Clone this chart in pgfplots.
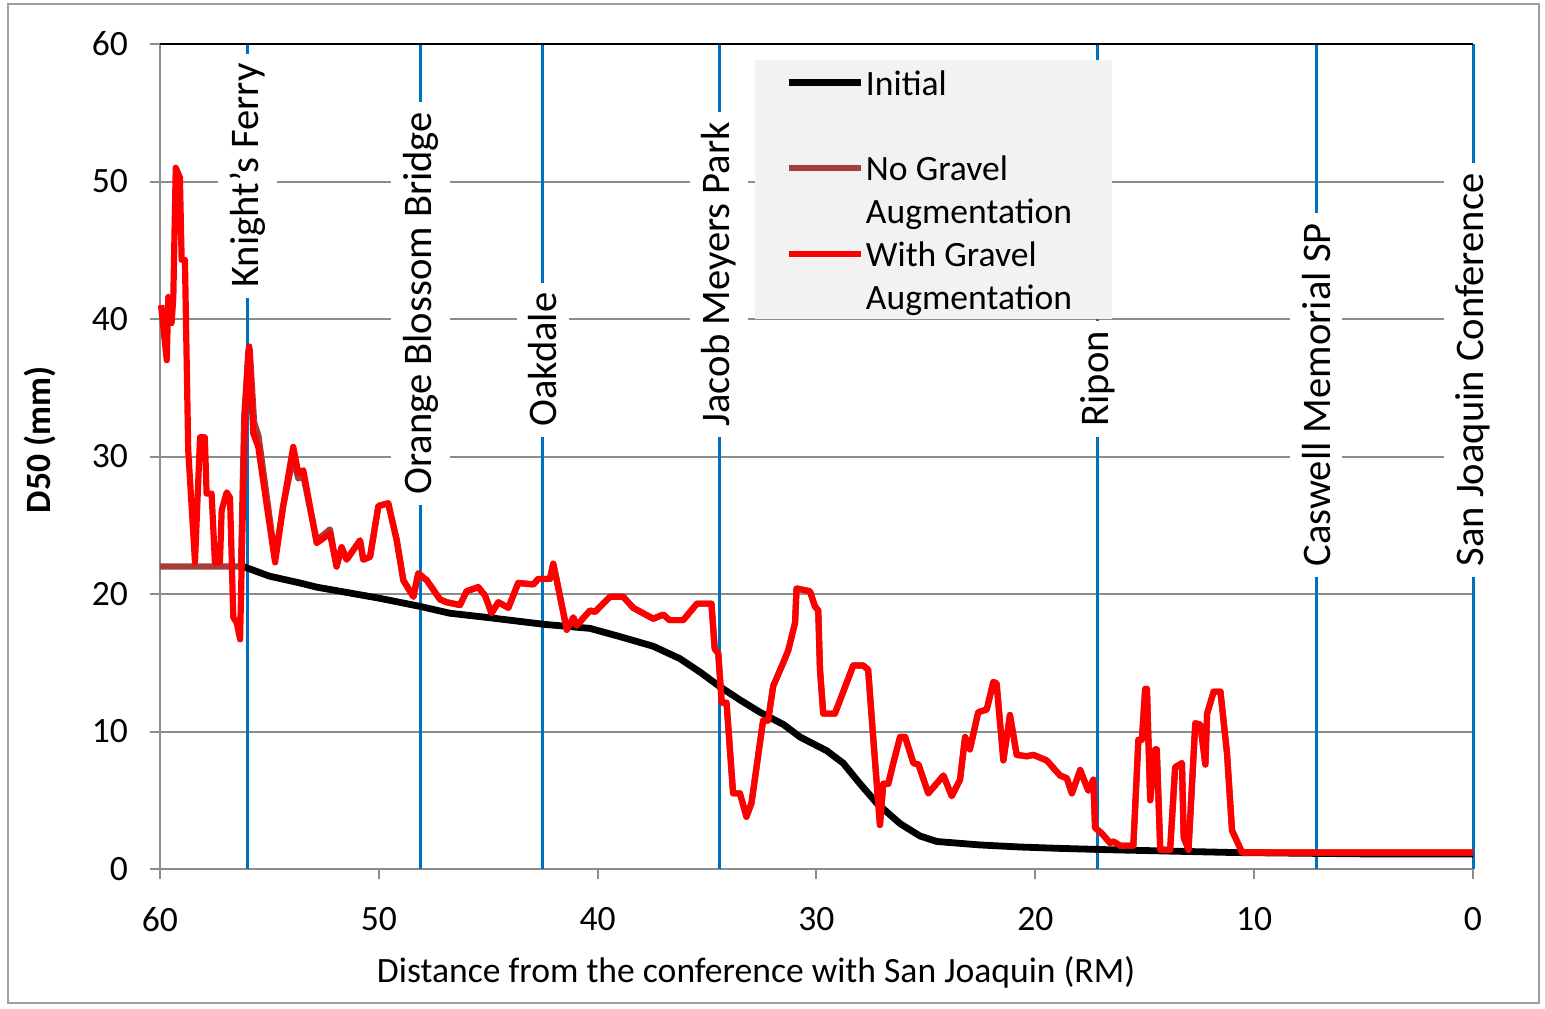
\documentclass[border=0pt]{standalone}
\usepackage{fontspec}
\setmainfont{Carlito}
\usepackage{pgfplots}
\pgfplotsset{compat=1.18}
\definecolor{redline}{RGB}{255,0,0}
\definecolor{brownline}{RGB}{165,62,58}
\definecolor{blueline}{RGB}{0,112,192}
\definecolor{gridgray}{RGB}{140,140,140}
\definecolor{legfill}{RGB}{242,242,242}
\newcommand{\f}{\fontsize{17.8}{21.4}\selectfont}
\newcommand{\fl}{\fontsize{20.3}{24}\selectfont}
\tikzset{lab/.style={rotate=90, fill=white, inner xsep=5pt, inner ysep=6pt, font=\fl, anchor=west}}
\begin{document}
\begin{tikzpicture}
\useasboundingbox (-80pt,-69.5pt) rectangle (692.5pt,434.5pt);
\begin{axis}[
 at={(0,0)}, anchor=south west, scale only axis, width=656.5pt, height=412.5pt,
 x dir=reverse, xmin=0, xmax=60, ymin=0, ymax=60,
 xtick={0,10,...,60}, ytick={0,10,...,60},
 axis x line*=bottom, axis y line*=left,
 axis line style={-, gridgray, line width=1pt},
 tick align=outside, major tick length=5pt, tick style={gridgray, line width=1pt},
 ymajorgrids, grid style={gridgray, line width=1pt},
 tick label style={font=\f}, /pgf/number format/assume math mode=true,
 yticklabel style={xshift=-7.5pt}, xticklabel style={yshift=-10.5pt},
 xlabel={Distance from the conference with San Joaquin (RM)},
 ylabel={\textbf{D50 (mm)}},
 xlabel style={font=\f, at={(axis description cs:0.454,-0.1248)}, anchor=center},
 ylabel style={font=\f, at={(axis description cs:-0.0914,0.52)}, anchor=center},
 clip=false,
 legend cell align=left,
 legend style={at={(axis description cs:0.453,0.981)}, anchor=north west,
   fill=legfill, draw=none, inner xsep=15pt, inner ysep=0.5pt, font=\f,
   /tikz/row sep=0pt, /tikz/column sep=0pt,
   nodes={inner xsep=1pt, inner ysep=0pt, text height=17pt, text depth=4.4pt}},
 legend image code/.code={\draw[#1] (0pt,0pt) -- (36pt,0pt);},
]
% station lines
\addplot[blueline, line width=1.5pt, forget plot] coordinates {(56,0) (56,60)};
\addplot[blueline, line width=1.5pt, forget plot] coordinates {(48.1,0) (48.1,60)};
\addplot[blueline, line width=1.5pt, forget plot] coordinates {(42.5,0) (42.5,60)};
\addplot[blueline, line width=1.5pt, forget plot] coordinates {(34.45,0) (34.45,60)};
\addplot[blueline, line width=1.5pt, forget plot] coordinates {(17.15,0) (17.15,60)};
\addplot[blueline, line width=1.5pt, forget plot] coordinates {(7.17,0) (7.17,60)};
\addplot[blueline, line width=1.5pt, forget plot] coordinates {(0,0) (0,60)};
\draw[black, line width=1.25pt] (axis cs:60,60) -- (axis cs:0,60);
\node[lab] at (axis cs:56,41.53) {Knight's Ferry};
\node[lab] at (axis cs:48.1,26.47) {Orange Blossom Bridge};
\node[lab] at (axis cs:42.5,31.42) {Oakdale};
\node[lab] at (axis cs:34.45,31.42) {Jacob Meyers Park};
\node[lab] at (axis cs:17.15,31.42) {Ripon};
\node[lab] at (axis cs:7.17,21.24) {Caswell Memorial SP};
\node[lab] at (axis cs:0,21.24) {San Joaquin Conference};
% Initial
\addplot[black, line width=3.4pt, line join=round] coordinates {
(56.2,22.0)(55,21.3)(53.6,20.8)(52.84,20.5)(50,19.7)(48.12,19.1)(46.75,18.6)(45.07,18.3)
(42.48,17.8)(40.35,17.5)(38.98,16.9)(37.46,16.2)(36.24,15.3)(35.3,14.3)(34.45,13.3)
(33.5,12.3)(32.58,11.4)(31.5,10.5)(30.75,9.6)(29.53,8.6)(28.78,7.7)(28.01,6.2)(27.25,4.8)
(26.18,3.3)(25.27,2.4)(24.5,2.0)(22.53,1.75)(20.7,1.6)(18.87,1.5)(16.59,1.4)(10.97,1.2)(5,1.1)(0,1.1)};
\addlegendentry{Initial}
\addlegendimage{empty legend}\addlegendentry{\mbox{}}
% No gravel augmentation
\addplot[brownline, line width=3.1pt, line join=round] coordinates {
(60,22)(56.3,22)(56.15,33)(55.96,37.5)(55.9,37.8)(55.7,32.5)(55.5,31.5)(54.74,22.6)
(54.37,26.4)(53.91,30.0)(53.68,28.4)(53.45,28.6)(52.84,23.9)(52.23,24.7)(51.93,22.0)
(51.70,23.4)(51.47,22.5)(50.86,23.9)(50.71,22.5)(50.40,22.7)(50.02,26.4)(49.57,26.6)
(49.18,23.9)(48.88,21.0)(48.42,19.8)(48.20,21.5)(47.81,21.0)(47.20,19.6)(46.90,19.4)
(46.29,19.2)(45.99,20.2)(45.46,20.5)(45.15,19.9)(44.85,18.6)(44.54,19.4)(44.08,19.0)
(43.63,20.8)(42.94,20.7)(42.71,21.1)(42.18,21.1)(42.03,22.2)(41.87,21.0)(41.41,17.4)
(41.11,18.3)(40.96,17.7)(40.35,18.8)(40.12,18.7)(39.44,19.8)(38.83,19.8)(38.38,19.0)
(37.46,18.2)(37.01,18.5)(36.71,18.1)(36.09,18.1)(35.46,19.3)(34.80,19.3)(34.65,16.0)
(34.49,15.7)(34.33,12.1)(34.11,12.1)(33.81,5.5)(33.50,5.5)(33.20,3.8)(32.97,4.8)
(32.44,10.8)(32.21,10.8)(31.98,13.3)(31.52,15.0)(31.29,15.9)(30.98,17.9)(30.91,20.4)
(30.30,20.2)(30.07,19.1)(29.92,18.8)(29.84,14.5)(29.69,11.3)(29.16,11.3)(28.32,14.8)
(27.87,14.8)(27.64,14.5)(27.41,9.6)(27.10,3.2)(26.95,6.2)(26.72,6.2)(26.49,7.7)(26.18,9.6)
(25.95,9.6)(25.57,7.7)(25.34,7.6)(24.89,5.5)(24.20,6.8)(23.82,5.3)(23.44,6.5)(23.21,9.6)
(22.99,8.7)(22.61,11.4)(22.22,11.6)(21.92,13.6)(21.77,13.5)(21.46,7.9)(21.16,11.2)
(20.85,8.3)(20.39,8.2)(20.09,8.3)(19.48,7.9)(18.87,6.8)(18.56,6.6)(18.33,5.5)(17.95,7.2)
(17.58,5.7)(17.35,6.5)(17.27,3.0)(16.97,2.6)(16.59,1.9)(16.43,2.0)(16.13,1.7)(15.52,1.7)
(15.29,9.4)(15.13,9.4)(14.98,13.1)(14.90,13.1)(14.75,5.0)(14.52,8.7)(14.45,8.7)(14.29,1.4)
(13.84,1.4)(13.61,7.4)(13.30,7.7)(13.22,2.3)(13.00,1.4)(12.69,10.6)(12.46,10.5)(12.23,7.6)
(12.15,11.3)(11.85,12.9)(11.54,12.9)(11.24,8.4)(11.01,2.8)(10.55,1.2)(0,1.2)};
\addlegendentry{No Gravel}
\addlegendimage{empty legend}\addlegendentry{Augmentation\hspace*{4pt}}
% With gravel augmentation
\addplot[redline, line width=3.1pt, line join=round] coordinates {
(59.95,41.0)(59.69,37.0)(59.62,41.6)(59.47,39.7)(59.39,41.6)(59.28,51.0)(59.09,50.3)
(59.01,44.3)(58.86,44.3)(58.71,30.5)(58.40,22.3)(58.17,31.4)(57.95,31.4)(57.87,27.3)
(57.64,27.3)(57.49,22.3)(57.26,22.3)(57.18,26.1)(56.95,27.4)(56.80,27.0)(56.65,18.3)
(56.49,17.9)(56.34,16.7)(56.12,32.9)(55.96,37.7)(55.92,38.0)(55.74,31.7)(55.51,30.7)
(54.74,22.3)(54.37,26.4)(53.91,30.7)(53.68,28.8)(53.45,29.0)(52.84,23.7)(52.23,24.4)
(51.93,22.0)(51.70,23.4)(51.47,22.5)(50.86,23.9)(50.71,22.5)(50.40,22.7)(50.02,26.4)
(49.57,26.6)(49.18,23.9)(48.88,21.0)(48.42,19.8)(48.20,21.5)(47.81,21.0)(47.20,19.6)
(46.90,19.4)(46.29,19.2)(45.99,20.2)(45.46,20.5)(45.15,19.9)(44.85,18.6)(44.54,19.4)
(44.08,19.0)(43.63,20.8)(42.94,20.7)(42.71,21.1)(42.18,21.1)(42.03,22.2)(41.87,21.0)
(41.41,17.4)(41.11,18.3)(40.96,17.7)(40.35,18.8)(40.12,18.7)(39.44,19.8)(38.83,19.8)
(38.38,19.0)(37.46,18.2)(37.01,18.5)(36.71,18.1)(36.09,18.1)(35.46,19.3)(34.80,19.3)
(34.65,16.0)(34.49,15.7)(34.33,12.1)(34.11,12.1)(33.81,5.5)(33.50,5.5)(33.20,3.8)
(32.97,4.8)(32.44,10.8)(32.21,10.8)(31.98,13.3)(31.52,15.0)(31.29,15.9)(30.98,17.9)
(30.91,20.4)(30.30,20.2)(30.07,19.1)(29.92,18.8)(29.84,14.5)(29.69,11.3)(29.16,11.3)
(28.32,14.8)(27.87,14.8)(27.64,14.5)(27.41,9.6)(27.10,3.2)(26.95,6.2)(26.72,6.2)
(26.49,7.7)(26.18,9.6)(25.95,9.6)(25.57,7.7)(25.34,7.6)(24.89,5.5)(24.20,6.8)(23.82,5.3)
(23.44,6.5)(23.21,9.6)(22.99,8.7)(22.61,11.4)(22.22,11.6)(21.92,13.6)(21.77,13.5)
(21.46,7.9)(21.16,11.2)(20.85,8.3)(20.39,8.2)(20.09,8.3)(19.48,7.9)(18.87,6.8)(18.56,6.6)
(18.33,5.5)(17.95,7.2)(17.58,5.7)(17.35,6.5)(17.27,3.0)(16.97,2.6)(16.59,1.9)(16.43,2.0)
(16.13,1.7)(15.52,1.7)(15.29,9.4)(15.13,9.4)(14.98,13.1)(14.90,13.1)(14.75,5.0)(14.52,8.7)
(14.45,8.7)(14.29,1.4)(13.84,1.4)(13.61,7.4)(13.30,7.7)(13.22,2.3)(13.00,1.4)(12.69,10.6)
(12.46,10.5)(12.23,7.6)(12.15,11.3)(11.85,12.9)(11.54,12.9)(11.24,8.4)(11.01,2.8)
(10.55,1.2)(0,1.2)};
\addlegendentry{With Gravel}
\addlegendimage{empty legend}\addlegendentry{Augmentation}
\end{axis}
\draw[gray!75, line width=1pt] (-76pt,-67pt) rectangle (689.5pt,432.5pt);
\end{tikzpicture}
\end{document}
